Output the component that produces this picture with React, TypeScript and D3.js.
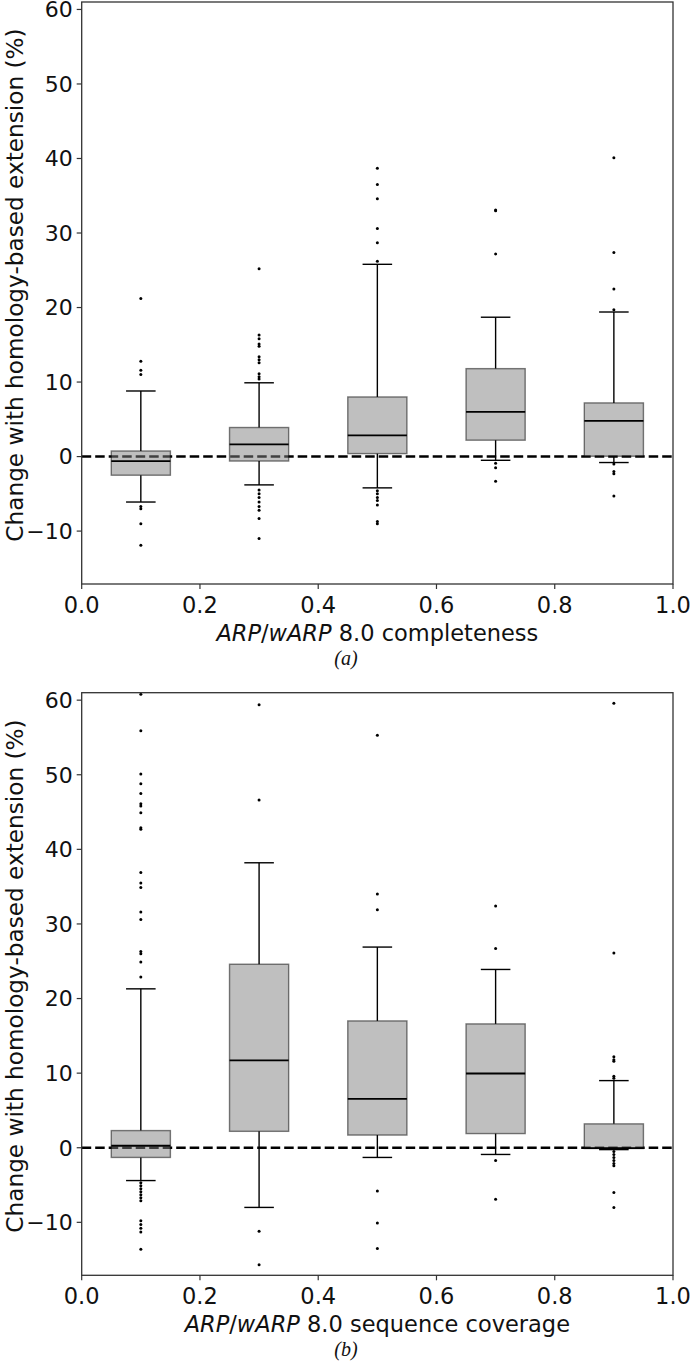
import React from 'react';
import * as d3 from 'd3';

const positions = [0.1, 0.3, 0.5, 0.7, 0.9];
const xTicks = [0, 0.2, 0.4, 0.6, 0.8, 1.0];
const yTicks = [-10, 0, 10, 20, 30, 40, 50, 60];

// Panel (a): completeness
const q1A = [-2.5, -0.6, 0.4, 2.2, 0.05];
const medA = [-0.6, 1.65, 2.85, 6.0, 4.8];
const q3A = [0.75, 3.9, 8.0, 11.8, 7.2];
const whiskLoA = [-6.1, -3.8, -4.2, -0.5, -0.8];
const whiskHiA = [8.8, 9.9, 25.8, 18.7, 19.4];
const outliersA = [
  [21.2, 12.8, 11.6, 11.0, -6.7, -7.0, -9.0, -11.9],
  [25.2, 16.3, 15.8, 15.1, 14.8, 13.4, 13.0, 12.6, 11.1, 10.7, 10.4, -4.5, -5.0, -5.5, -6.1, -6.7, -7.2, -8.3, -11.0],
  [38.7, 36.5, 34.6, 30.6, 28.7, 26.2, -4.6, -5.0, -5.5, -5.9, -6.5, -8.7, -9.0],
  [33.1, 33.0, 27.2, -0.9, -1.5, -3.3],
  [40.1, 27.4, 22.5, 19.7, -1.0, -2.0, -2.3, -5.3],
];

// Panel (b): sequence coverage
const q1B = [-1.3, 2.2, 1.7, 1.9, -0.1];
const medB = [0.27, 11.7, 6.55, 9.95, -0.05];
const q3B = [2.3, 24.6, 17.0, 16.6, 3.2];
const whiskLoB = [-4.4, -8.0, -1.3, -0.9, -0.25];
const whiskHiB = [21.3, 38.2, 26.9, 23.9, 9.0];
const outliersB = [
  [60.8, 55.9, 50.1, 48.8, 47.5, 46.1, 45.8, 44.9, 42.9, 42.7, 36.9, 35.5, 34.9, 31.6, 30.6, 26.3, 26.0, 24.9, 22.9,
    -4.7, -5.1, -5.5, -5.9, -6.3, -6.7, -7.1, -9.8, -10.3, -10.8, -11.3, -13.6],
  [59.4, 46.6, -11.2, -15.7],
  [55.3, 34.0, 31.9, -5.8, -10.1, -13.5],
  [32.4, 26.7, -1.7, -6.9],
  [59.6, 26.1, 12.2, 11.8, 11.6, 9.6, 9.3, -0.5, -0.9, -1.3, -1.7, -2.1, -2.4, -6.0, -8.0],
];

const yLabel = 'Change with homology-based extension (%)';
const xLabelA = 'completeness';
const xLabelB = 'sequence coverage';

const FONT = 'DejaVu Sans';
const LEFT = 81.7;
const RIGHT = 673;

type PanelProps = {
  top: number;
  bottom: number;
  q1: number[];
  med: number[];
  q3: number[];
  lo: number[];
  hi: number[];
  outliers: number[][];
  xLabelRest: string;
  caption: string;
};

function Panel({ top, bottom, q1, med, q3, lo, hi, outliers, xLabelRest, caption }: PanelProps) {
  const x = d3.scaleLinear().domain([0, 1]).range([LEFT, RIGHT]);
  const y = d3.scaleLinear().domain([-17.1, 61]).range([bottom, top]);
  const boxW = x(0.1) - x(0);
  const capW = boxW / 2;
  const midY = (top + bottom) / 2 - 8;
  return (
    <g>
      <line x1={x(0)} x2={x(1)} y1={y(0)} y2={y(0)} stroke="#000" strokeWidth={2.6} strokeDasharray="9.5,4" />
      {positions.map((p, i) => {
        const cx = x(p);
        return (
          <g key={i}>
            <line x1={cx} x2={cx} y1={y(q3[i])} y2={y(hi[i])} stroke="#000" strokeWidth={1.4} />
            <line x1={cx} x2={cx} y1={y(q1[i])} y2={y(lo[i])} stroke="#000" strokeWidth={1.4} />
            <line x1={cx - capW / 2} x2={cx + capW / 2} y1={y(hi[i])} y2={y(hi[i])} stroke="#000" strokeWidth={1.4} />
            <line x1={cx - capW / 2} x2={cx + capW / 2} y1={y(lo[i])} y2={y(lo[i])} stroke="#000" strokeWidth={1.4} />
            <rect x={cx - boxW / 2} y={y(q3[i])} width={boxW} height={y(q1[i]) - y(q3[i])}
              fill="#808080" fillOpacity={0.5} stroke="#000" strokeOpacity={0.5} strokeWidth={1.4} />
            <line x1={cx - boxW / 2} x2={cx + boxW / 2} y1={y(med[i])} y2={y(med[i])} stroke="#000" strokeWidth={1.8} />
            {outliers[i].map((v, j) => (
              <circle key={j} cx={cx} cy={y(v)} r={1.5} fill="#000" />
            ))}
          </g>
        );
      })}
      <rect x={LEFT} y={top} width={RIGHT - LEFT} height={bottom - top} fill="none" stroke="#333" strokeWidth={1.3} />
      {yTicks.map((t) => (
        <g key={t}>
          <line x1={LEFT - 5} x2={LEFT} y1={y(t)} y2={y(t)} stroke="#333" strokeWidth={1.2} />
          <text x={LEFT - 9} y={y(t)} dy="0.36em" textAnchor="end" fontFamily={FONT} fontSize={22} fill="#111">
            {t < 0 ? '\u2212' + Math.abs(t) : String(t)}
          </text>
        </g>
      ))}
      {xTicks.map((t) => (
        <g key={t}>
          <line x1={x(t)} x2={x(t)} y1={bottom} y2={bottom + 5} stroke="#333" strokeWidth={1.2} />
          <text x={x(t)} y={bottom + 29} textAnchor="middle" fontFamily={FONT} fontSize={22.5} fill="#111">
            {t.toFixed(1)}
          </text>
        </g>
      ))}
      <text x={(LEFT + RIGHT) / 2} y={bottom + 57} textAnchor="middle" fontFamily={FONT} fontSize={22.5} fill="#111">
        <tspan fontStyle="italic">ARP</tspan>/<tspan fontStyle="italic">wARP</tspan> 8.0 {xLabelRest}
      </text>
      <text transform={`translate(23,${midY}) rotate(-90)`} textAnchor="middle" fontFamily={FONT} fontSize={23.2} fill="#111">
        {yLabel}
      </text>
      <text x={346} y={bottom + 81} textAnchor="middle" fontFamily="Liberation Serif" fontStyle="italic" fontSize={20} fill="#111">
        {caption}
      </text>
    </g>
  );
}

export default function App() {
  return (
    <svg width={692} height={1368} style={{ position: 'absolute', left: 0, top: 0, background: '#fff' }}>
      <rect width={692} height={1368} fill="#fff" />
      <Panel top={2} bottom={584} q1={q1A} med={medA} q3={q3A} lo={whiskLoA} hi={whiskHiA}
        outliers={outliersA} xLabelRest={xLabelA} caption="(a)" />
      <Panel top={692.7} bottom={1275.3} q1={q1B} med={medB} q3={q3B} lo={whiskLoB} hi={whiskHiB}
        outliers={outliersB} xLabelRest={xLabelB} caption="(b)" />
    </svg>
  );
}
